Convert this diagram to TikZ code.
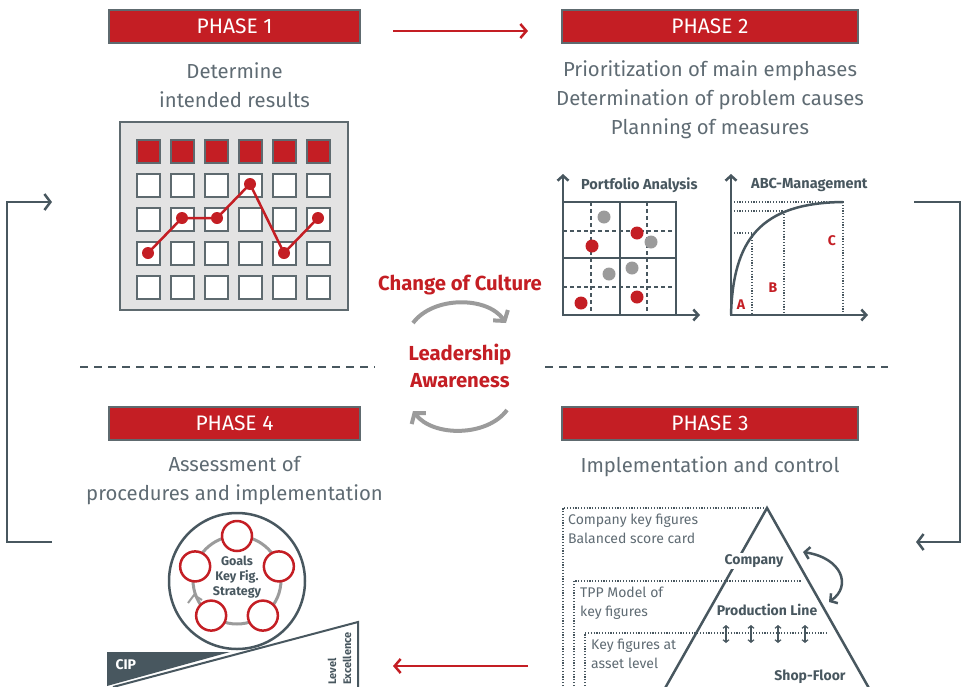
\documentclass[tikz,border=0pt]{standalone}
\usepackage{fontspec}
\setmainfont{Fira Sans}
\usetikzlibrary{arrows.meta,calc}
\definecolor{phasered}{HTML}{C41E24}
\definecolor{slate}{HTML}{48575F}
\definecolor{edgegray}{HTML}{5E6A6F}
\definecolor{boxgray}{HTML}{E3E3E3}
\definecolor{txtgray}{HTML}{5F6B73}
\definecolor{ringgray}{HTML}{9B9B9B}
\tikzset{
	phasebox/.style={draw=edgegray, line width=2pt, fill=phasered, text=white, minimum height=33pt, inner sep=0pt, font=\fontsize{21}{21}\selectfont},
	desc/.style={text=txtgray, align=center, font=\fontsize{20.3}{29}\selectfont},
	smalldesc/.style={text=txtgray, align=left, anchor=west, inner sep=0pt, font=\fontsize{14}{19}\selectfont},
	boldlbl/.style={text=slate, font=\bfseries\fontsize{14}{16}\selectfont},
	redlbl/.style={text=phasered, align=center, font=\bfseries\fontsize{20.3}{27}\selectfont},
	abclbl/.style={text=phasered, font=\bfseries\fontsize{14}{16}\selectfont},
	axis/.style={draw=slate, line width=2.5pt, -{Straight Barb[length=5pt, width=11pt]}},
	cell/.style={draw=edgegray, line width=2pt},
	gridline/.style={draw=slate, line width=2.5pt},
	dashline/.style={draw=slate, line width=1.2pt, dash pattern=on 4pt off 3pt},
	dotline/.style={draw=slate, line width=1.2pt, dash pattern=on 1.2pt off 1.6pt},
	redarrow/.style={draw=phasered, line width=2.5pt, -{Straight Barb[length=6pt, width=14pt]}},
	loopline/.style={draw=slate, line width=2.5pt, -{Straight Barb[length=6pt, width=16pt]}},
	turn/.style={draw=ringgray, line width=4pt, -{Straight Barb[length=7pt, width=18pt]}},
	updown/.style={draw=slate, line width=1.2pt, {Straight Barb[length=2.5pt, width=6pt]}-{Straight Barb[length=2.5pt, width=6pt]}},
}

\begin{document}
\begin{tikzpicture}[x=1pt, y=-1pt]
	%%%%% START %%%%%
	\useasboundingbox (0,0) rectangle (964,686);
	
	% phase headers
	\node[phasebox, minimum width=251pt] (ph1) at (234.5,26) {PHASE 1};
	\node[phasebox, minimum width=296pt] (ph2) at (710,26) {PHASE 2};
	\node[phasebox, minimum width=296pt] (ph3) at (710,423) {PHASE 3};
	\node[phasebox, minimum width=251pt] (ph4) at (234.5,423) {PHASE 4};
	
	\node[desc] (d1) at (234.5,85) {Determine\\intended results};
	\node[desc] (d2) at (710,100) {Prioritization of main emphases\\Determination of problem causes\\Planning of measures};
	\node[desc] (d3) at (710,467) {Implementation and control};
	\node[desc] (d4) at (234.5,481) {Assessment of\\procedures and implementation};
	
	\coordinate (top s) at (393,31);
	\coordinate (top e) at (528,31);
	\draw[redarrow] (top s) -- (top e);
	\coordinate (bot s) at (528,666);
	\coordinate (bot e) at (393,666);
	\draw[redarrow] (bot s) -- (bot e);
	
	% side loops
	\coordinate (lft a) at (52,542);
	\coordinate (lft b) at (52,202);
	\draw[loopline] (lft a) -- (7,542) -- (7,202) -- (lft b);
	\coordinate (rgt a) at (914,202);
	\coordinate (rgt b) at (916,542);
	\draw[loopline] (rgt a) -- (960,202) -- (960,542) -- (rgt b);
	
	\draw[slate, line width=2.5pt, dash pattern=on 8pt off 6pt] (80,367) -- (375,367);
	\draw[slate, line width=2.5pt, dash pattern=on 8pt off 6pt] (545,367) -- (888,367);
	
	%%%%% PHASE 1 : calendar %%%%%
	\draw[cell, line width=2.5pt, fill=boxgray] (120,122) rectangle (348,310);
	\foreach \c in {0,...,5} {
		\draw[cell, fill=phasered] (137+34*\c,139.5) rectangle ++(23,23);
		\foreach \r in {1,...,4}
			\draw[cell, fill=white] (137+34*\c,139.5+34*\r) rectangle ++(23,23);
	}
	\draw[phasered, line width=2.5pt] (148,253) -- (182,218) -- (217,218) -- (250,184) -- (284,253) -- (318,218);
	\foreach \p in {(148,253),(182,218),(217,218),(250,184),(284,253),(318,218)}
		\fill[phasered] \p circle (6);
	
	%%%%% PHASE 2 : portfolio %%%%%
	\node[boldlbl, anchor=west, inner sep=0pt, font=\bfseries\fontsize{14.5}{16}\selectfont] (pfa) at (581,185) {Portfolio Analysis};
	\draw[dashline] (591,202) -- (591,315);
	\draw[dashline] (647,202) -- (647,315);
	\draw[dashline] (563,231) -- (676,231);
	\draw[dashline] (563,287) -- (676,287);
	\draw[gridline] (563,202) rectangle (676,315);
	\draw[gridline] (620,202) -- (620,315);
	\draw[gridline] (563,258) -- (676,258);
	\draw[axis] (563,316) -- (563,174);
	\draw[axis] (562,315) -- (700,315);
	\foreach \p in {(604,217),(651,242),(609,274),(632,268)}
		\fill[ringgray] \p circle (6.5);
	\foreach \p in {(592,246),(637,233),(581,303),(637,297)}
		\fill[phasered] \p circle (6.5);
	
	%%%%% PHASE 2 : ABC %%%%%
	\node[boldlbl, anchor=west, inner sep=0pt, font=\bfseries\fontsize{14.5}{16}\selectfont] (abc) at (751,185) {ABC-Management};
	\draw[dotline] (731,202) -- (843,202) -- (843,315);
	\draw[dotline] (731,211) -- (784,211) -- (784,315);
	\draw[dotline] (731,233) -- (752,233) -- (752,315);
	\draw[slate, line width=2.5pt] (731,315) .. controls (733,240) and (760,203) .. (843,202);
	\draw[axis] (731,316) -- (731,174);
	\draw[axis] (730,315) -- (868,315);
	\node[abclbl] (la) at (741,305) {A};
	\node[abclbl] (lb) at (773,288) {B};
	\node[abclbl] (lc) at (832,241) {C};
	
	%%%%% CENTER %%%%%
	\node[redlbl] (coc) at (460,285) {Change of Culture};
	\node[redlbl] (lead) at (460,366) {Leadership\\Awareness};
	\draw[turn] (413,323) .. controls (433,296) and (487,296) .. (506,323);
	\draw[turn] (507,410) .. controls (487,437) and (433,437) .. (413,411);
	
	%%%%% PHASE 4 %%%%%
	\draw[slate, line width=2.5pt] (237,581) circle (68);
	\draw[ringgray, line width=3pt] (237,580) circle (44);
	\draw[ringgray, line width=2pt] (188,603) -- (194,595) -- (202,600);
	\foreach \a in {90,18,-54,-126,-198}
		\draw[phasered, line width=2.5pt, fill=white] ({237+44*cos(\a)},{580-44*sin(\a)}) circle (15);
	\node[boldlbl, align=center, font=\bfseries\fontsize{12.5}{15}\selectfont] (goals) at (237,577) {Goals\\Key Fig.\\Strategy};
	
	\fill[slate] (107,652) -- (230,652) -- (107,686) -- cycle;
	\node[text=white, anchor=west, font=\bfseries\fontsize{14}{16}\selectfont] (cip) at (112,665) {CIP};
	\draw[slate, line width=2pt, fill=white] (113,687) -- (358,622) -- (358,687);
	\node[boldlbl, rotate=90, anchor=west, inner sep=1pt, font=\bfseries\fontsize{11}{14}\selectfont] (lvl) at (332,686) {Level};
	\node[boldlbl, rotate=90, anchor=west, inner sep=1pt, font=\bfseries\fontsize{11}{14}\selectfont] (exc) at (347,686) {Excellence};
	
	%%%%% PHASE 3 : pyramid %%%%%
	\draw[dotline] (563,686) -- (563,508) -- (767,508);
	\draw[dotline] (574,686) -- (574,581) -- (801,581);
	\draw[dotline] (585,686) -- (585,633) -- (828,633);
	\draw[slate, line width=2.5pt] (664,690) -- (767,508) -- (870,690);
	\node[smalldesc] (t1) at (568,529) {Company key figures\\Balanced score card};
	\node[smalldesc] (t2) at (580,603) {TPP Model of\\key figures};
	\node[smalldesc] (t3) at (591,654) {Key figures at\\asset level};
	\node[boldlbl, fill=white, inner sep=1.5pt] (comp) at (754,561) {Company};
	\node[boldlbl] (prod) at (767,610) {Production Line};
	\node[boldlbl] (shop) at (810,677) {Shop-Floor};
	\foreach \x in {726,751,778,805}
		\draw[updown] (\x,625) -- (\x,643);
	\coordinate (sw a) at (803,552);
	\coordinate (sw b) at (829,602);
	\draw[slate, line width=2.5pt, {Straight Barb[length=5pt, width=12pt]}-{Straight Barb[length=5pt, width=12pt]}] (sw a) .. controls (842,558) and (852,586) .. (sw b);
	
	%%%%% END %%%%%
\end{tikzpicture}
\end{document}
